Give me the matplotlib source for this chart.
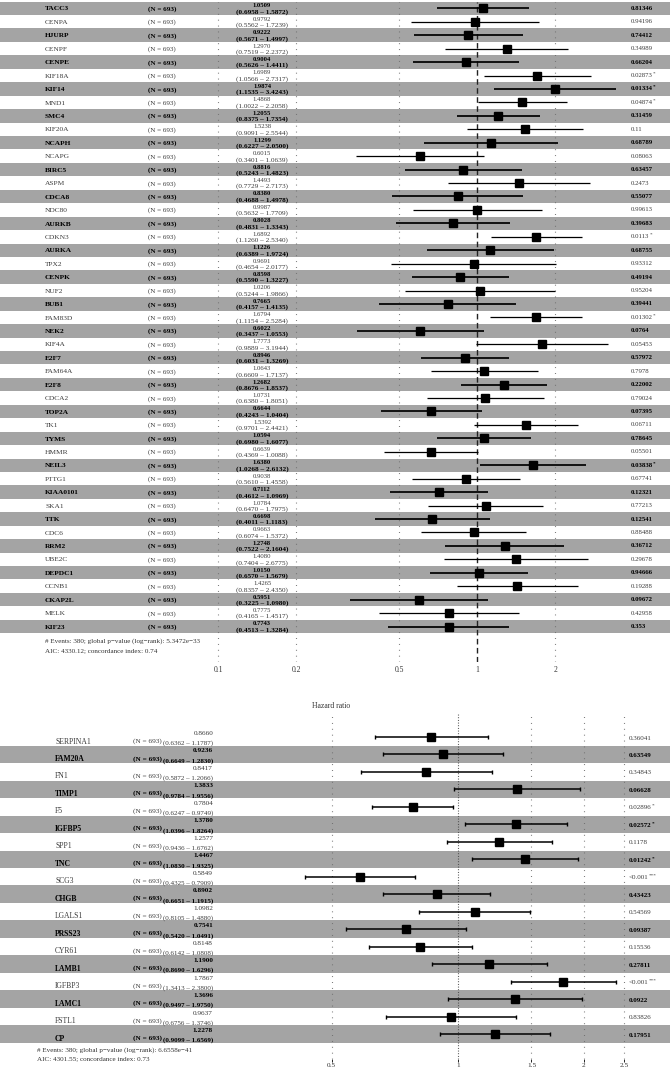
import numpy as np
import matplotlib
matplotlib.use('Agg')
import matplotlib.pyplot as plt
import matplotlib.transforms as mtransforms
from matplotlib.ticker import NullLocator

plt.rcParams['font.family'] = ['Liberation Serif', 'DejaVu Serif']

W, H = 670, 1070

# ---------------- top panel data ----------------
genes_top = ["TACC3", "CENPA", "HJURP", "CENPF", "CENPE", "KIF18A", "KIF14", "MND1",
             "SMC4", "KIF20A", "NCAPH", "NCAPG", "BIRC5", "ASPM", "CDCA8", "NDC80",
             "AURKB", "CDKN3", "AURKA", "TPX2", "CENPK", "NUF2", "BUB1", "FAM83D",
             "NEK2", "KIF4A", "E2F7", "FAM64A", "E2F8", "CDCA2", "TOP2A", "TK1",
             "TYMS", "HMMR", "NEIL3", "PTTG1", "KIAA0101", "SKA1", "TTK", "CDC6",
             "RRM2", "UBE2C", "DEPDC1", "CCNB1", "CKAP2L", "MELK", "KIF23"]
hr_top = [1.0509, 0.9792, 0.9222, 1.2970, 0.9004, 1.6989, 1.9874, 1.4868,
          1.2055, 1.5238, 1.1299, 0.6015, 0.8816, 1.4493, 0.8380, 0.9987,
          0.8028, 1.6892, 1.1226, 0.9691, 0.8598, 1.0206, 0.7665, 1.6794,
          0.6022, 1.7773, 0.8946, 1.0643, 1.2682, 1.0731, 0.6644, 1.5392,
          1.0594, 0.6639, 1.6380, 0.9038, 0.7112, 1.0784, 0.6698, 0.9663,
          1.2748, 1.4080, 1.0150, 1.4265, 0.5951, 0.7775, 0.7743]
lo_top = [0.6958, 0.5562, 0.5671, 0.7519, 0.5626, 1.0566, 1.1535, 1.0022,
          0.8375, 0.9091, 0.6227, 0.3401, 0.5243, 0.7729, 0.4688, 0.5632,
          0.4831, 1.1260, 0.6389, 0.4654, 0.5590, 0.5244, 0.4157, 1.1154,
          0.3437, 0.9889, 0.6031, 0.6609, 0.8676, 0.6380, 0.4243, 0.9701,
          0.6980, 0.4369, 1.0268, 0.5610, 0.4612, 0.6470, 0.4011, 0.6074,
          0.7522, 0.7404, 0.6570, 0.8357, 0.3225, 0.4165, 0.4513]
hi_top = [1.5872, 1.7239, 1.4997, 2.2372, 1.4411, 2.7317, 3.4243, 2.2058,
          1.7354, 2.5544, 2.0500, 1.0639, 1.4823, 2.7173, 1.4978, 1.7709,
          1.3343, 2.5340, 1.9724, 2.0177, 1.3227, 1.9866, 1.4135, 2.5284,
          1.0553, 3.1944, 1.3269, 1.7137, 1.8537, 1.8051, 1.0404, 2.4421,
          1.6077, 1.0088, 2.6132, 1.4558, 1.0969, 1.7975, 1.1183, 1.5372,
          2.1604, 2.6775, 1.5679, 2.4350, 1.0980, 1.4517, 1.3284]
p_top = ["0.81346", "0.94196", "0.74412", "0.34989", "0.66204", "0.02873", "0.01334", "0.04874",
         "0.31459", "0.11", "0.68789", "0.08063", "0.63457", "0.2473", "0.55077", "0.99613",
         "0.39683", "0.0113", "0.68755", "0.93312", "0.49194", "0.95204", "0.39441", "0.01302",
         "0.0764", "0.05453", "0.57972", "0.7978", "0.22002", "0.79024", "0.07395", "0.06711",
         "0.78645", "0.05501", "0.03838", "0.67741", "0.12321", "0.77213", "0.12541", "0.88488",
         "0.36712", "0.29678", "0.94666", "0.19288", "0.09672", "0.42958", "0.353"]
ticks_top = [0.1, 0.2, 0.5, 1, 2]
ticklabels_top = ["0.1", "0.2", "0.5", "1", "2"]
foot_top = ["# Events: 380; global p\u2212value (log\u2212rank): 5.3472e\u221233",
            "AIC: 4330.12; concordance index: 0.74"]

# ---------------- bottom panel data ----------------
genes_bot = ["SERPINA1", "FAM20A", "FN1", "TIMP1", "F5", "IGFBP5", "SPP1", "TNC", "SCG3",
             "CHGB", "LGALS1", "PRSS23", "CYR61", "LAMB1", "IGFBP3", "LAMC1", "FSTL1", "CP"]
hr_bot = [0.8660, 0.9236, 0.8417, 1.3833, 0.7804, 1.3780, 1.2577, 1.4467, 0.5849,
          0.8902, 1.0982, 0.7541, 0.8148, 1.1900, 1.7867, 1.3696, 0.9637, 1.2278]
lo_bot = [0.6362, 0.6649, 0.5872, 0.9784, 0.6247, 1.0396, 0.9436, 1.0830, 0.4325,
          0.6651, 0.8105, 0.5420, 0.6142, 0.8690, 1.3413, 0.9497, 0.6756, 0.9099]
hi_bot = [1.1787, 1.2830, 1.2066, 1.9556, 0.9749, 1.8264, 1.6762, 1.9325, 0.7909,
          1.1915, 1.4880, 1.0491, 1.0808, 1.6296, 2.3800, 1.9750, 1.3746, 1.6569]
p_bot = ["0.36041", "0.63549", "0.34843", "0.06628", "0.02896", "0.02572", "0.1178", "0.01242",
         "<0.001", "0.43423", "0.54569", "0.09387", "0.15536", "0.27811", "<0.001", "0.0922",
         "0.83826", "0.17951"]
ticks_bot = [0.5, 1, 1.5, 2, 2.5]
ticklabels_bot = ["0.5", "1", "1.5", "2", "2.5"]
foot_bot = ["# Events: 380; global p\u2212value (log\u2212rank): 6.6558e\u221241",
            "AIC: 4301.55; concordance index: 0.73"]
n_label = "(N = 693)"

GRAY = '#a4a4a4'
GRID = '#6e6e6e'

fig = plt.figure(figsize=(6.7, 10.7), dpi=100)


def px_axes(x0, y0, x1, y1):
    return fig.add_axes([x0 / W, 1 - y1 / H, (x1 - x0) / W, (y1 - y0) / H])


def stars(p):
    if p.startswith('<'):
        return '***'
    v = float(p)
    if v < 0.001:
        return '***'
    if v < 0.01:
        return '**'
    if v < 0.05:
        return '*'
    return ''


def ptext(ax, tr, x, y, s, bold, fs, color):
    t = ax.text(x, y, s, transform=tr, ha='left', va='center', fontsize=fs,
                fontweight='bold' if bold else 'normal', color=color)
    st = stars(s)
    if st:
        ax.annotate(st, xy=(1.0, 0.95), xycoords=t, ha='left', va='center',
                    fontsize=fs * 0.75, fontweight='bold' if bold else 'normal', color=color)


# ======================= TOP PANEL =======================
axt = px_axes(0, 1.6, 670, 662)
n1 = len(genes_top)
ytop = np.arange(n1)
axt.set_xscale('log')
axt.set_xlim(0.01440, 5.53)
axt.set_ylim(48.64, -0.5)
for s in axt.spines.values():
    s.set_visible(False)
axt.set_yticks([])
axt.xaxis.set_minor_locator(NullLocator())
axt.set_xticks(ticks_top)
axt.set_xticklabels(ticklabels_top)
axt.tick_params(axis='x', length=0, pad=3, labelsize=5.5, labelcolor='#333333')

for i in range(n1):
    if i % 2 == 0:
        axt.axhspan(i - 0.5, i + 0.5, color=GRAY, lw=0, zorder=0)

for v in ticks_top:
    if v == 1:
        axt.axvline(v, color='#222222', ls=(0, (4, 2.5)), lw=1.0, zorder=1)
    else:
        axt.axvline(v, color=GRID, ls=(0, (0.8, 4.5)), lw=0.8, zorder=1)

for i in range(n1):
    shaded = (i % 2 == 0)
    axt.hlines(ytop[i], lo_top[i], hi_top[i], color='black',
               lw=1.25 if shaded else 0.9, zorder=3)
axt.plot(hr_top, ytop, 's', color='black', ms=5.2, zorder=4, ls='none')

trt = mtransforms.blended_transform_factory(axt.transAxes, axt.transData)
for i in range(n1):
    shaded = (i % 2 == 0)
    fw = 'bold' if shaded else 'normal'
    col = 'black' if shaded else '#3a3a3a'
    axt.text(45 / W, ytop[i] + 0.05, genes_top[i], transform=trt, ha='left', va='center',
             fontsize=5.3, fontweight=fw, color=col)
    axt.text(148 / W, ytop[i] + 0.05, n_label, transform=trt, ha='left', va='center',
             fontsize=5.1, fontweight=fw, color=col)
    axt.text(262 / W, ytop[i] - 0.19, f"{hr_top[i]:.4f}", transform=trt, ha='center',
             va='center', fontsize=4.8, fontweight=fw, color=col)
    axt.text(262 / W, ytop[i] + 0.26, f"({lo_top[i]:.4f} \u2013 {hi_top[i]:.4f})",
             transform=trt, ha='center', va='center', fontsize=5.2, fontweight=fw, color=col)
    ptext(axt, trt, 631 / W, ytop[i], p_top[i], shaded, 4.9, col)

fig.text(45 / W, 1 - 641 / H, foot_top[0], ha='left', va='center', fontsize=5.1, color='#333333')
fig.text(45 / W, 1 - 651 / H, foot_top[1], ha='left', va='center', fontsize=5.1, color='#333333')

fig.text(331 / W, 1 - 706 / H, "Hazard ratio", ha='center', va='center', fontsize=5.5,
         color='#333333')

# ======================= BOTTOM PANEL =======================
# rows: centre of row 0 at 737 px, spacing 17.47 px
axb = px_axes(0, 713, 670, 1059)
n2 = len(genes_bot)
ybot = np.arange(n2)
axb.set_xscale('log')
axb.set_xlim(0.0809, 3.2107)
axb.set_ylim((1059 - 737) / 17.47, (713 - 737) / 17.47)
for s in axb.spines.values():
    s.set_visible(False)
axb.set_yticks([])
axb.xaxis.set_minor_locator(NullLocator())
axb.set_xticks(ticks_bot)
axb.set_xticklabels(ticklabels_bot)
axb.tick_params(axis='x', length=2, width=0.6, pad=0.8, labelsize=5.2, labelcolor='#333333')

for i in range(n2):
    if i % 2 == 1:
        axb.axhspan(i - 0.5, i + 0.5, color=GRAY, lw=0, zorder=0)

for v in ticks_bot:
    if v == 1:
        axb.axvline(v, color='#444444', ls=(0, (0.8, 1.6)), lw=0.8, zorder=1)
    else:
        axb.axvline(v, color=GRID, ls=(0, (0.8, 4.5)), lw=0.8, zorder=1)

hb = np.array(hr_bot)
lb = np.array(lo_bot)
ub = np.array(hi_bot)
axb.errorbar(hb, ybot, xerr=[hb - lb, ub - hb], fmt='s', color='black', ms=5.4,
             capsize=1.4, elinewidth=1.1, capthick=1.0, zorder=4)

trb = mtransforms.blended_transform_factory(axb.transAxes, axb.transData)
for i in range(n2):
    shaded = (i % 2 == 1)
    fw = 'bold' if shaded else 'normal'
    col = 'black' if shaded else '#3a3a3a'
    axb.text(55 / W, ybot[i] + 0.26, genes_bot[i], transform=trb, ha='left', va='center',
             fontsize=5.5, fontweight=fw, color=col)
    axb.text(133 / W, ybot[i] + 0.24, n_label, transform=trb, ha='left', va='center',
             fontsize=5.2, fontweight=fw, color=col)
    axb.text(213 / W, ybot[i] - 0.2, f"{hr_bot[i]:.4f}", transform=trb, ha='right',
             va='center', fontsize=5.2, fontweight=fw, color=col)
    axb.text(213 / W, ybot[i] + 0.37, f"({lo_bot[i]:.4f} \u2013 {hi_bot[i]:.4f})",
             transform=trb, ha='right', va='center', fontsize=5.0, fontweight=fw, color=col)
    ptext(axb, trb, 629 / W, ybot[i] + 0.06, p_bot[i], shaded, 5.0, col)

fig.text(37 / W, 1 - 1050.5 / H, foot_bot[0], ha='left', va='center', fontsize=5.1, color='#333333')
fig.text(37 / W, 1 - 1058.5 / H, foot_bot[1], ha='left', va='center', fontsize=5.1, color='#333333')

fig.savefig('out.png', dpi=100)
